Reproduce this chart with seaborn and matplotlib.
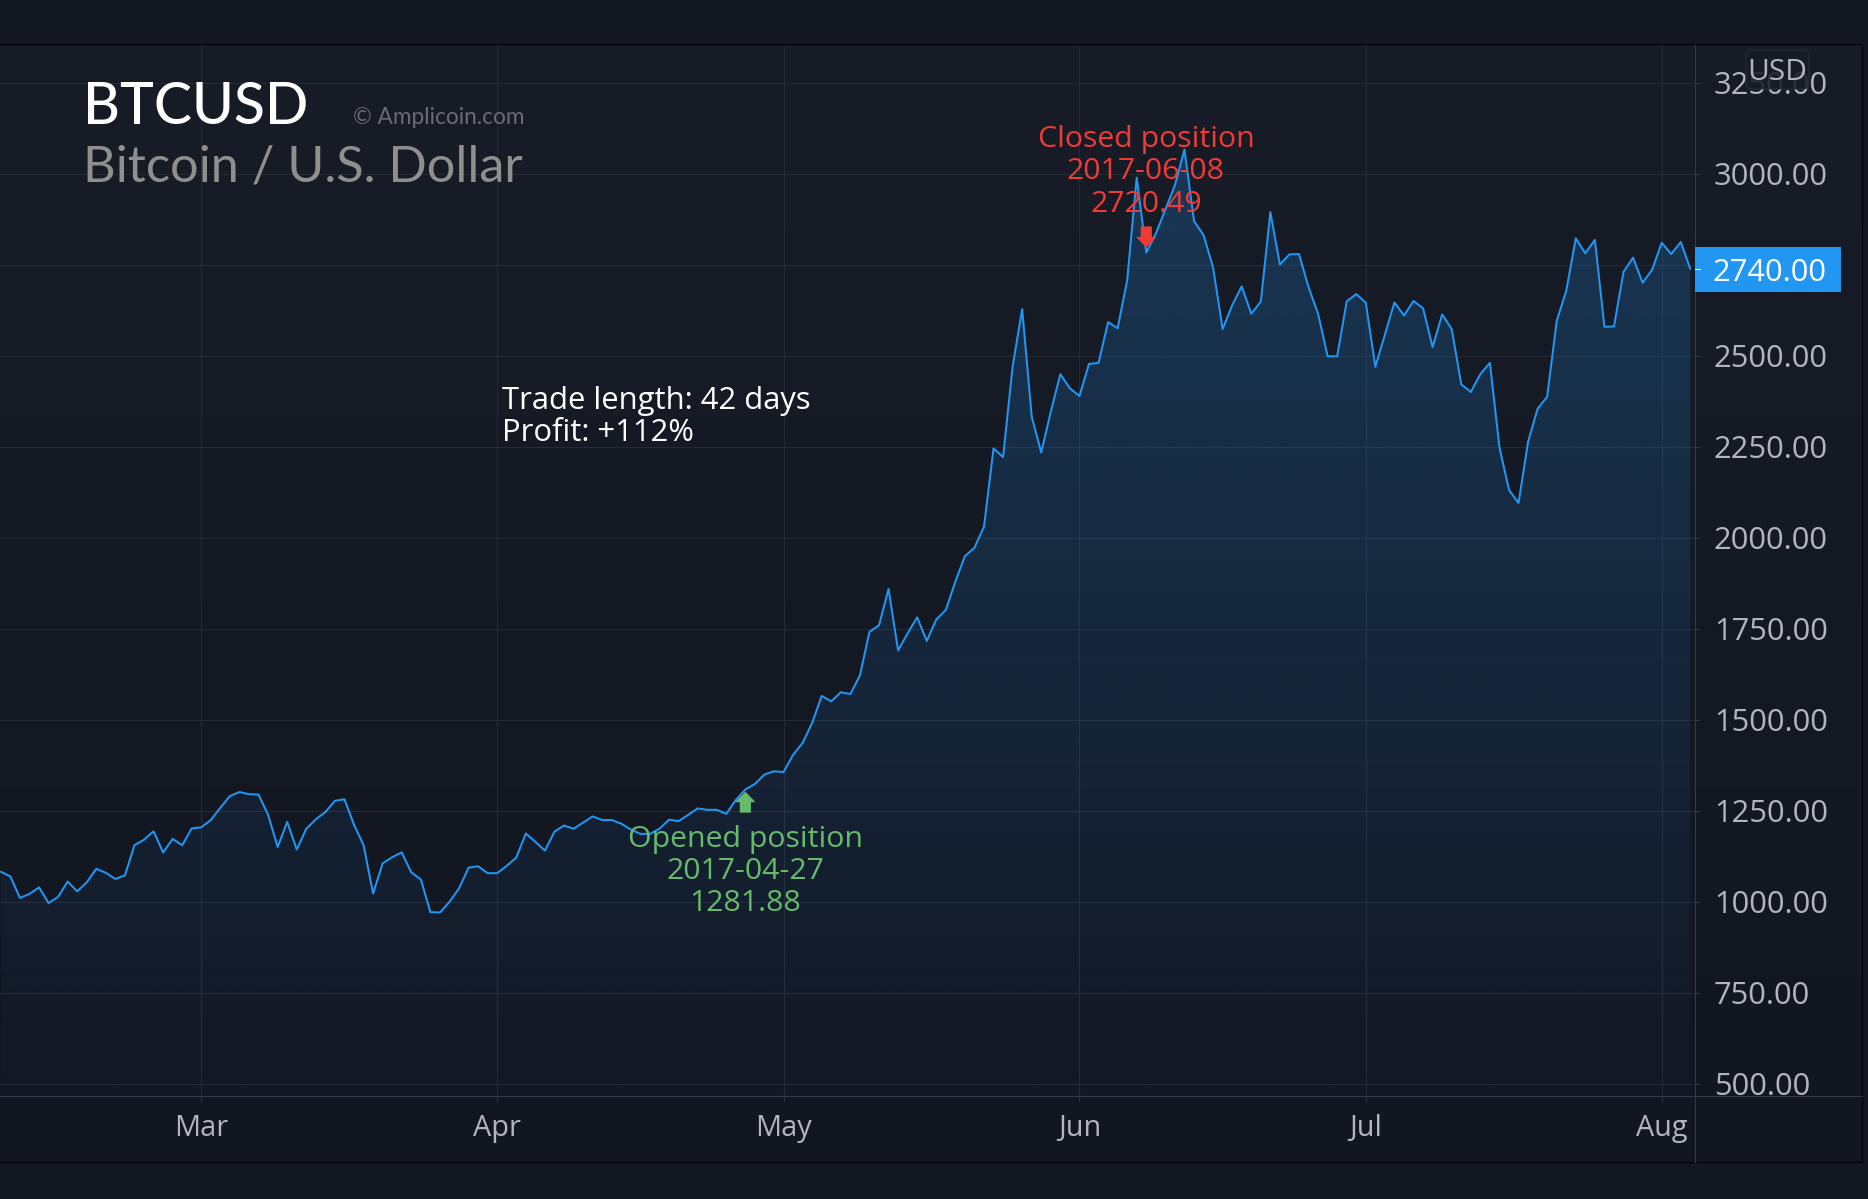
import numpy as np
import pandas as pd
import matplotlib
matplotlib.use("Agg")
import matplotlib.pyplot as plt
import matplotlib.dates as mdates
from matplotlib.patches import Rectangle, FancyBboxPatch
from matplotlib.transforms import ScaledTranslation
import seaborn as sns

# ---- data ----
price_feb = [1084,1071,1012,1023,1041,998,1015,1057,1030,1055,1092,1081,1064,1074,1157,1172,1195,1137,1174,1157,1203]
price_mar = [1206,1226,1260,1292,1303,1297,1296,1240,1152,1221,1145,1202,1228,1248,1279,1283,1213,1157,1024,1107,1124,1137,1082,1063,973,972,1001,1038,1095,1099,1080]
price_apr = [1080,1100,1123,1189,1166,1142,1194,1211,1202,1219,1236,1226,1226,1216,1200,1188,1188,1202,1227,1223,1240,1258,1254,1254,1243,1281,1310,1325,1351,1360]
price_may = [1358,1405,1438,1493,1567,1552,1577,1572,1623,1743,1761,1861,1692,1739,1783,1718,1777,1803,1881,1951,1974,2032,2247,2223,2472,2630,2334,2236,2348,2451,2412]
price_jun = [2391,2479,2482,2594,2577,2709,2991,2785,2837,2903,2970,3068,2872,2833,2744,2575,2640,2692,2617,2650,2896,2752,2780,2781,2690,2617,2500,2500,2651,2671]
price_jul = [2647,2471,2559,2648,2612,2652,2632,2525,2615,2575,2423,2402,2451,2482,2250,2133,2097,2265,2356,2389,2597,2680,2824,2783,2820,2581,2582,2732,2771,2702,2738]
price_aug = [2812,2781,2814,2740]
start_date = "2017-02-08"
y_ticks = [500,750,1000,1250,1500,1750,2000,2250,2500,2750,3000,3250]
hidden_tick = 2750  # covered by the last-price tag in the reference
open_date, open_mark = "2017-04-27", 1304
close_date, close_mark = "2017-06-08", 2799
open_lines = ["Opened position", "2017-04-27", "1281.88"]
close_lines = ["Closed position", "2017-06-08", "2720.49"]
trade_lines = ["Trade length: 42 days", "Profit: +112%"]

price = price_feb + price_mar + price_apr + price_may + price_jun + price_jul + price_aug
df = pd.DataFrame({"date": pd.date_range(start_date, periods=len(price), freq="D"), "price": price})

# ---- style ----
W, H = 1868, 1199
GRID = "#262a35"
AXISLINE = "#363a45"
TICKTXT = "#b2b5be"
BLUE = "#2196f3"
GREEN = "#66bb6a"
RED = "#ef3b36"
UI_FONT = ["Open Sans", "DejaVu Sans"]
TITLE_FONT = ["Lato", "DejaVu Sans"]

sns.set_theme(style="dark")
plt.rcParams["font.family"] = UI_FONT

fig = plt.figure(figsize=(W / 100, H / 100), dpi=100, facecolor="#131722")

L, R, T, B = 0, 1695, 43.5, 1096
BOX_R, BOX_B = 1861.7, 1162

# background pane
bg = fig.add_axes([0, 0, 1, 1], zorder=0)
bg.axis("off")
top_c = np.array([24, 28, 39]) / 255
bot_c = np.array([18, 22, 33]) / 255
g = np.linspace(0, 1, 256)[:, None, None]
bg.imshow(top_c[None, None, :] * (1 - g) + bot_c[None, None, :] * g,
          extent=(0, BOX_R, BOX_B, T), aspect="auto", interpolation="bilinear")
bg.set_xlim(0, W); bg.set_ylim(H, 0)

# main chart
ax = fig.add_axes([L / W, 1 - B / H, (R - L) / W, (B - T) / H], zorder=1)
ax.patch.set_visible(False)
sns.lineplot(data=df, x="date", y="price", ax=ax, color=BLUE, lw=1.45, zorder=4, errorbar=None)

mar1 = mdates.date2num(pd.Timestamp("2017-03-01"))
px_per_day = (1661.7 - 201.3) / 153
xlim = (mar1 - 201.3 / px_per_day, mar1 + (R - 201.3) / px_per_day)
px_per_usd = 0.364
ylim = (500 - (B - 1084.3) / px_per_usd, 3000 + (174.3 - T) / px_per_usd)

poly = ax.fill_between(df["date"], df["price"], ylim[0], facecolor="none", edgecolor="none")
rgba = np.zeros((256, 1, 4))
rgba[..., :3] = matplotlib.colors.to_rgb(BLUE)
rgba[:, 0, 3] = np.interp(np.linspace(T, B, 256), [150, B], [0.23, 0.015])
im = ax.imshow(rgba, extent=(xlim[0], xlim[1], ylim[0], ylim[1]), aspect="auto",
               interpolation="bilinear", zorder=3)
im.set_clip_path(poly.get_paths()[0], transform=ax.transData)

ax.set_xlim(*xlim); ax.set_ylim(*ylim)
ax.set_xlabel(""); ax.set_ylabel("")
ax.xaxis.set_major_locator(mdates.MonthLocator())
ax.xaxis.set_major_formatter(mdates.DateFormatter("%b"))
ax.yaxis.tick_right()
ax.set_yticks(y_ticks)
ax.set_yticklabels(["" if v == hidden_tick else f"{v:.2f}" for v in y_ticks])
ax.grid(True, color=GRID, lw=0.8, zorder=1)
ax.set_axisbelow(True)
ax.tick_params(axis="y", which="major", right=True, left=False, length=3.6, width=0.7, color=AXISLINE,
               labelcolor=TICKTXT, labelsize=22.2, pad=10)
ax.tick_params(axis="x", which="major", bottom=True, length=3.4, width=0.7, color=AXISLINE,
               labelcolor=TICKTXT, labelsize=20.8, pad=9.4)
for lab in ax.get_yticklabels():
    lab.set_transform(lab.get_transform() + ScaledTranslation(0, 1.2 / 100, fig.dpi_scale_trans))
for s in ("top", "left"):
    ax.spines[s].set_visible(False)
for s in ("right", "bottom"):
    ax.spines[s].set_color(AXISLINE)
    ax.spines[s].set_linewidth(0.8)

# arrows anchored on the data scales
for when, val, col, dy in ((open_date, open_mark, GREEN, -21), (close_date, close_mark, RED, 21)):
    ax.annotate("", xy=(mdates.date2num(pd.Timestamp(when)), val), xycoords="data",
                xytext=(0, dy), textcoords="offset pixels",
                arrowprops=dict(arrowstyle="simple,head_length=7.6,head_width=14.6,tail_width=8",
                                mutation_scale=1, color=col, lw=0, shrinkA=0, shrinkB=0),
                zorder=6)

# overlay in pixel coordinates
ov = fig.add_axes([0, 0, 1, 1], zorder=5)
ov.set_xlim(0, W); ov.set_ylim(H, 0); ov.axis("off"); ov.patch.set_visible(False)

ov.plot([0, BOX_R, BOX_R, 0], [T, T, BOX_B, BOX_B], color="#02030a", lw=0.9, solid_joinstyle="miter")
ov.plot([R, R], [B, BOX_B], color=AXISLINE, lw=0.8)
ov.plot([R, BOX_R], [B, B], color=AXISLINE, lw=0.8)

ov.text(83, 124, "BTCUSD", color="white", fontsize=41, family=TITLE_FONT, fontweight="medium", va="baseline")
ov.text(83, 182, "Bitcoin / U.S. Dollar", color="#8f8f8f", fontsize=36.4, family=TITLE_FONT, va="baseline")
ov.text(353, 124, "© Amplicoin.com", color="#6b6b6f", fontsize=16.3, family=TITLE_FONT, va="baseline")

for txt, y in zip(trade_lines, (409, 441)):
    ov.text(502, y, txt, color="white", fontsize=22.3, va="baseline")
for txt, y in zip(open_lines, (847.3, 879, 911)):
    ov.text(745, y, txt, color=GREEN, fontsize=21.8, ha="center", va="baseline")
for txt, y in zip(close_lines, (146.7, 179, 211.7)):
    ov.text(1146, y, txt, color=RED, fontsize=21.8, ha="center", va="baseline")

# last price tag
ov.add_patch(Rectangle((R, 247), 1841 - R, 44.7, facecolor=BLUE, edgecolor="none"))
ov.plot([R, R + 5], [269, 269], color="white", lw=0.8)
ov.text(1713, 281, f"{price[-1]:.2f}", color="white", fontsize=22.2, va="baseline")

# currency badge
ov.add_patch(FancyBboxPatch((1746, 50), 63, 39, boxstyle="round,pad=0,rounding_size=6",
                            facecolor=(24 / 255, 28 / 255, 39 / 255, 0.88), edgecolor="#2a2e39", lw=0.8))
ov.text(1777.5, 80, "USD", color=TICKTXT, fontsize=21.5, ha="center", va="baseline")

fig.savefig("out.png", dpi=100, facecolor=fig.get_facecolor())
